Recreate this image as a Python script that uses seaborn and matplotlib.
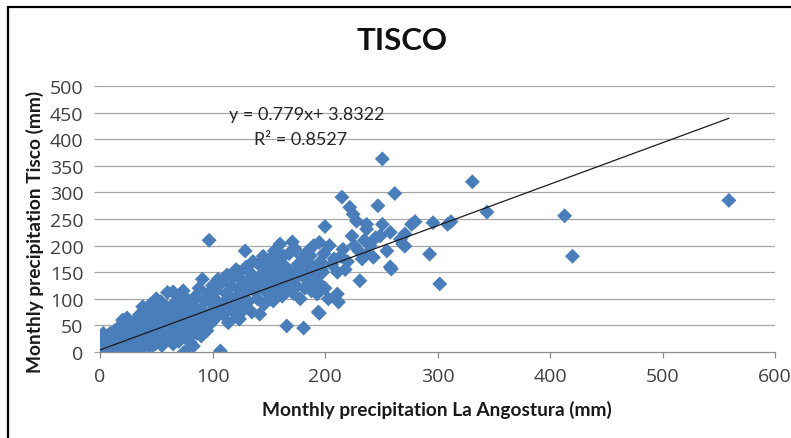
import numpy as np
import pandas as pd
import matplotlib
matplotlib.use("Agg")
import matplotlib.pyplot as plt
from matplotlib.patches import Rectangle
import seaborn as sns

# ---- data ----
angostura = [
    0, 0, 1, 2, 2, 3, 4, 4, 5, 5, 6, 7, 7, 8, 9, 9, 10, 10, 1, 3,
    11, 12, 12, 13, 14, 15, 16, 17, 18, 18, 19, 20, 21, 22, 23, 24, 25, 26, 27, 28, 29, 30, 14, 20, 24, 28,
    31, 32, 33, 34, 35, 36, 37, 38, 39, 40, 41, 42, 43, 44, 45, 46, 47, 48, 49, 50, 51, 52, 53, 54, 55, 56,
    57, 58, 59, 60, 60, 35, 45, 55, 40, 50, 48,
    61, 62, 63, 64, 65, 66, 67, 68, 69, 70, 71, 72, 73, 74, 75, 75, 76, 77, 78, 79, 80, 81, 82, 83, 83, 84,
    85, 86, 87, 88, 89, 90, 91, 92, 93, 94, 95, 96, 97, 98, 99, 100, 100, 104, 105, 107, 65, 70, 80, 90, 95,
    101, 102, 103, 106, 108, 110, 111, 112, 113, 114, 115, 116, 117, 118, 119, 120, 121, 122, 123, 124, 124,
    125, 126, 127, 128, 129, 130, 131, 132, 133, 134, 135, 136, 137, 138, 139, 140, 141, 142, 143, 144, 145,
    146, 147, 148, 149,
    150, 151, 152, 153, 154, 154, 155, 156, 157, 158, 159, 160, 161, 162, 163, 164, 165, 166, 166, 167, 168,
    169, 170, 171, 172, 173, 174, 175, 176, 177, 178, 179, 180, 181, 182, 183, 184, 185, 186, 187, 188, 189,
    190, 191, 192, 193, 194, 194, 195, 195, 196, 197, 198, 199, 200, 200,
    203, 204, 206, 208, 211, 211, 212, 214, 215, 216, 218, 220, 222, 224, 225, 226, 228, 230, 231, 233, 235,
    237, 237, 237, 240, 243, 245, 247, 249, 251, 251, 255, 258, 258, 259, 262,
    267, 269, 271, 271, 277, 280, 293, 296, 302, 309, 312, 331, 344, 413, 420, 559,
]
tisco = [
    0, 5, 12, 3, 20, 8, 0, 15, 25, 2, 10, 30, 4, 18, 0, 35, 8, 22, 28, 35,
    14, 2, 30, 40, 8, 20, 45, 12, 28, 0, 36, 6, 50, 18, 30, 10, 40, 55, 22, 5, 32, 48, 26, 60, 64, 15,
    25, 60, 10, 40, 70, 20, 52, 85, 30, 12, 62, 45, 78, 22, 90, 35, 55, 68, 15, 42, 80, 28, 60, 95, 48, 20,
    72, 38, 85, 112, 55, 5, 8, 12, 75, 100, 88,
    30, 70, 45, 88, 113, 22, 58, 95, 40, 75, 108, 32, 62, 115, 0, 50, 85, 100, 25, 68, 42, 92, 55, 11, 87, 72,
    105, 35, 62, 120, 48, 80, 137, 49, 95, 65, 100, 110, 210, 75, 55, 90, 125, 68, 137, 2, 15, 20, 18, 30, 40,
    60, 100, 115, 82, 130, 70, 95, 110, 145, 55, 105, 85, 125, 140, 75, 100, 155, 65, 118, 62, 150,
    90, 135, 108, 80, 190, 160, 120, 95, 150, 140, 75, 170, 115, 130, 131, 100, 165, 71, 145, 120, 180,
    90, 155, 169, 110,
    135, 175, 100, 160, 124, 96, 190, 145, 115, 170, 130, 203, 150, 105, 181, 135, 160, 49, 143, 120, 185,
    131, 150, 207, 110, 195, 140, 124, 165, 155, 100, 180, 145, 45, 120, 170, 135, 190, 150, 181, 115, 160,
    200, 140, 125, 109, 131, 75, 73, 206, 170, 155, 150, 185, 236, 120,
    100, 200, 165, 175, 150, 109, 94, 180, 291, 193, 155, 170, 272, 218, 259, 200, 246, 190, 134, 175, 210,
    231, 184, 240, 200, 178, 215, 275, 218, 240, 363, 190, 225, 160, 156, 298,
    212, 203, 222, 199, 240, 245, 184, 243, 128, 240, 245, 320, 263, 256, 180, 285,
]
slope, intercept = 0.779, 3.8322
r_squared = 0.8527
x_ticks = [0, 100, 200, 300, 400, 500, 600]
y_ticks = [0, 50, 100, 150, 200, 250, 300, 350, 400, 450, 500]

df = pd.DataFrame({"x": angostura, "y": tisco})

sns.set_theme(style="white")
plt.rcParams["font.family"] = ["Lato", "DejaVu Sans"]

W, H = 791, 439
fig = plt.figure(figsize=(W / 100, H / 100), dpi=100)
ax = fig.add_axes([100 / W, 1 - 353 / H, 675 / W, 266 / H])

ax.set_axisbelow(True)
for yv in y_ticks[1:]:
    ax.axhline(yv, color="#a6a6a6", lw=0.9, zorder=0)

sns.scatterplot(data=df, x="x", y="y", marker="D", s=58, color="#4A7EBB",
                edgecolor="none", linewidth=0, ax=ax, zorder=2)

xl = np.array([min(angostura), max(angostura)])
ax.plot(xl, slope * xl + intercept, color="#1a1a1a", lw=0.9, zorder=3)

ax.set_xlim(0, 600)
ax.set_ylim(0, 500)
tick_font = dict(fontfamily=["Open Sans", "DejaVu Sans"], fontsize=14, color="#404040")
ax.set_xticks(x_ticks, [str(v) for v in x_ticks], **tick_font)
ax.set_yticks(y_ticks, [str(v) for v in y_ticks], **tick_font)
ax.tick_params(axis="x", length=4, width=0.9, color="#8c8c8c", pad=7,
               direction="out", bottom=True)
ax.tick_params(axis="y", length=4, width=0.9, color="#a6a6a6", pad=8,
               direction="out", left=True)
for s in ["top", "right", "left"]:
    ax.spines[s].set_visible(False)
ax.spines["bottom"].set_color("#8c8c8c")
ax.spines["bottom"].set_linewidth(0.9)
ax.set_xlabel("")
ax.set_ylabel("")
ax.grid(False)

fig.text(307 / W, 1 - 115 / H, f"y = {slope}x+ {intercept}",
         ha="center", va="center", fontsize=13, color="#262626")
fig.text(301 / W, 1 - 140 / H, f"R² = {r_squared}",
         ha="center", va="center", fontsize=13, color="#262626")

fig.text(402 / W, 1 - 41 / H, "TISCO", ha="center", va="center",
         fontsize=22.5, fontweight="bold", color="#111111")
fig.text(437 / W, 1 - 410 / H, "Monthly precipitation La Angostura (mm)",
         ha="center", va="center", fontsize=13.8, fontweight="bold", color="#1a1a1a")
fig.text(35 / W, 1 - 232 / H, "Monthly precipitation Tisco (mm)", rotation=90,
         ha="center", va="center", fontsize=13.8, fontweight="bold", color="#1a1a1a")

fig.add_artist(Rectangle((7.5 / W, -0.1), 1.2, 1.1 - 7.5 / H, transform=fig.transFigure,
                         fill=False, edgecolor="black", lw=1.6, clip_on=False))

fig.savefig("out.png", dpi=100)
